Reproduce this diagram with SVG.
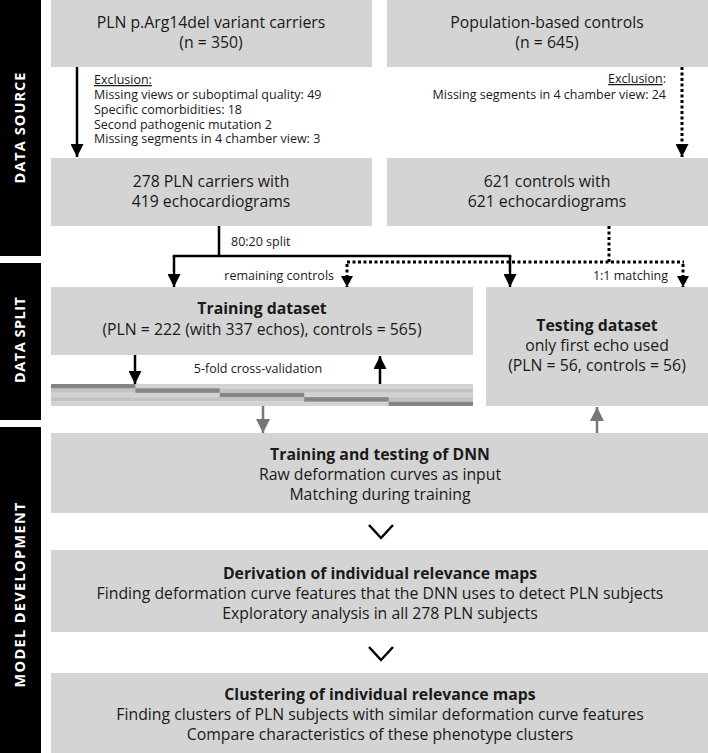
<svg xmlns="http://www.w3.org/2000/svg" width="708" height="753" viewBox="0 0 708 753">
<style>
.box{fill:#d4d4d4}
.side{fill:#000}
.st{font-family:"Open Sans","Noto Sans",sans-serif;font-size:14.5px;font-weight:bold;fill:#fff;text-anchor:middle}
.t{font-family:"Open Sans","Noto Sans",sans-serif;font-size:15.8px;fill:#1a1a1a;text-anchor:middle}
.b{font-weight:bold}
.s{font-family:"Open Sans","Noto Sans",sans-serif;font-size:12.5px;fill:#1a1a1a}
.ln{fill:none;stroke:#000;stroke-width:2.5}
.dot{fill:none;stroke:#000;stroke-width:3;stroke-dasharray:3 2.5}
.gl{fill:none;stroke:#777;stroke-width:2.5}
.chev{fill:none;stroke:#000;stroke-width:2.5}
</style>
<defs>
<marker id="ah" viewBox="0 0 13 13" refX="13" refY="6.5" markerWidth="13" markerHeight="13" markerUnits="userSpaceOnUse" orient="auto"><path d="M0,0 L13,6.5 L0,13 z" fill="#000"/></marker>
<marker id="ahs" viewBox="0 0 11 12" refX="11" refY="6" markerWidth="11" markerHeight="12" markerUnits="userSpaceOnUse" orient="auto"><path d="M0,0 L11,6 L0,12 z" fill="#000"/></marker>
<marker id="ag" viewBox="0 0 14 14" refX="14" refY="7" markerWidth="14" markerHeight="14" markerUnits="userSpaceOnUse" orient="auto"><path d="M0,0 L14,7 L0,14 z" fill="#777"/></marker>
</defs>

<g id="sidebar">
<rect class="side" x="0" y="0" width="41" height="256"/>
<rect class="side" x="0" y="263" width="41" height="157"/>
<rect class="side" x="0" y="427" width="41" height="326"/>
<text class="st" transform="translate(25,128) rotate(-90)" textLength="111" lengthAdjust="spacing">DATA SOURCE</text>
<text class="st" transform="translate(25,340) rotate(-90)" textLength="86" lengthAdjust="spacing">DATA SPLIT</text>
<text class="st" transform="translate(25,595) rotate(-90)" textLength="185" lengthAdjust="spacing">MODEL DEVELOPMENT</text>
</g>

<g id="pln-carriers">
<rect class="box" x="51" y="0" width="321" height="67"/>
<text class="t" x="211" y="28">PLN p.Arg14del variant carriers</text>
<text class="t" x="211" y="48">(n = 350)</text>
</g>

<g id="population-controls">
<rect class="box" x="387" y="0" width="321" height="67"/>
<text class="t" x="547" y="28">Population-based controls</text>
<text class="t" x="547" y="48">(n = 645)</text>
</g>

<g id="exclusion-pln">
<text class="s" x="94" y="84" text-decoration="underline">Exclusion:</text>
<text class="s" x="94" y="99">Missing views or suboptimal quality: 49</text>
<text class="s" x="94" y="114">Specific comorbidities: 18</text>
<text class="s" x="94" y="129">Second pathogenic mutation 2</text>
<text class="s" x="94" y="143">Missing segments in 4 chamber view: 3</text>
</g>

<g id="exclusion-controls">
<text class="s" x="666" y="83" text-anchor="end"><tspan text-decoration="underline">Exclusion</tspan>:</text>
<text class="s" x="666" y="99" text-anchor="end">Missing segments in 4 chamber view: 24</text>
</g>

<g id="pln-278">
<rect class="box" x="51" y="158" width="321" height="68"/>
<text class="t" x="211" y="187">278 PLN carriers with</text>
<text class="t" x="211" y="207">419 echocardiograms</text>
</g>

<g id="controls-621">
<rect class="box" x="387" y="158" width="321" height="68"/>
<text class="t" x="547" y="187">621 controls with</text>
<text class="t" x="547" y="207">621 echocardiograms</text>
</g>

<g id="training-dataset">
<rect class="box" x="51" y="287" width="422" height="68"/>
<text class="t b" x="262" y="314">Training dataset</text>
<text class="t" x="262" y="335">(PLN = 222 (with 337 echos), controls = 565)</text>
</g>

<g id="testing-dataset">
<rect class="box" x="486" y="287" width="222" height="119"/>
<text class="t b" x="597" y="331">Testing dataset</text>
<text class="t" x="597" y="351">only first echo used</text>
<text class="t" x="597" y="371">(PLN = 56, controls = 56)</text>
</g>

<g id="cross-validation">
<rect x="51" y="384" width="422" height="4.4" fill="#d2d2d2"/>
<rect x="51" y="388.4" width="422" height="4.4" fill="#c2c2c2"/>
<rect x="51" y="392.8" width="422" height="4.4" fill="#d2d2d2"/>
<rect x="51" y="397.2" width="422" height="4.4" fill="#c2c2c2"/>
<rect x="51" y="401.6" width="422" height="4.4" fill="#d2d2d2"/>
<rect x="51" y="384" width="84.4" height="4.4" fill="#858585"/>
<rect x="135.4" y="388.4" width="84.4" height="4.4" fill="#858585"/>
<rect x="219.8" y="392.8" width="84.4" height="4.4" fill="#858585"/>
<rect x="304.2" y="397.2" width="84.4" height="4.4" fill="#858585"/>
<rect x="388.6" y="401.6" width="84.4" height="4.4" fill="#858585"/>
<text class="s" x="258" y="373" text-anchor="middle">5-fold cross-validation</text>
</g>

<g id="dnn">
<rect class="box" x="51" y="433" width="657" height="80"/>
<text class="t b" x="380" y="460">Training and testing of DNN</text>
<text class="t" x="380" y="480">Raw deformation curves as input</text>
<text class="t" x="380" y="500">Matching during training</text>
</g>

<g id="relevance-maps">
<rect class="box" x="51" y="550" width="657" height="82"/>
<text class="t b" x="380" y="579">Derivation of individual relevance maps</text>
<text class="t" x="380" y="599">Finding deformation curve features that the DNN uses to detect PLN subjects</text>
<text class="t" x="380" y="619">Exploratory analysis in all 278 PLN subjects</text>
</g>

<g id="clustering">
<rect class="box" x="51" y="673" width="657" height="80"/>
<text class="t b" x="380" y="700">Clustering of individual relevance maps</text>
<text class="t" x="380" y="720">Finding clusters of PLN subjects with similar deformation curve features</text>
<text class="t" x="380" y="740">Compare characteristics of these phenotype clusters</text>
</g>

<g id="connectors">
<path class="ln" d="M77,67 V157" marker-end="url(#ah)"/>
<path class="dot" d="M682,67 V157" marker-end="url(#ah)"/>
<path class="ln" d="M219,226 V256"/>
<path class="ln" d="M172.75,256 H511.25"/>
<path class="ln" d="M174,256 V287" marker-end="url(#ah)"/>
<path class="ln" d="M510,256 V287" marker-end="url(#ah)"/>
<text class="s" x="231" y="246">80:20 split</text>
<path class="dot" d="M609,226 V262"/>
<path class="dot" d="M347,262 H684"/>
<path class="dot" d="M347,264 V287" marker-end="url(#ahs)"/>
<path class="dot" d="M683,264 V287" marker-end="url(#ahs)"/>
<text class="s" x="334" y="280" text-anchor="end">remaining controls</text>
<text class="s" x="668" y="280" text-anchor="end">1:1 matching</text>
<path class="ln" d="M135,355 V384" marker-end="url(#ah)"/>
<path class="ln" d="M380,384 V356" marker-end="url(#ah)"/>
<path class="gl" d="M263,406 V433" marker-end="url(#ag)"/>
<path class="gl" d="M597,433 V407" marker-end="url(#ag)"/>
<polyline class="chev" points="369,525 381,538 393,525"/>
<polyline class="chev" points="369,647 381,660 393,647"/>
</g>
</svg>
